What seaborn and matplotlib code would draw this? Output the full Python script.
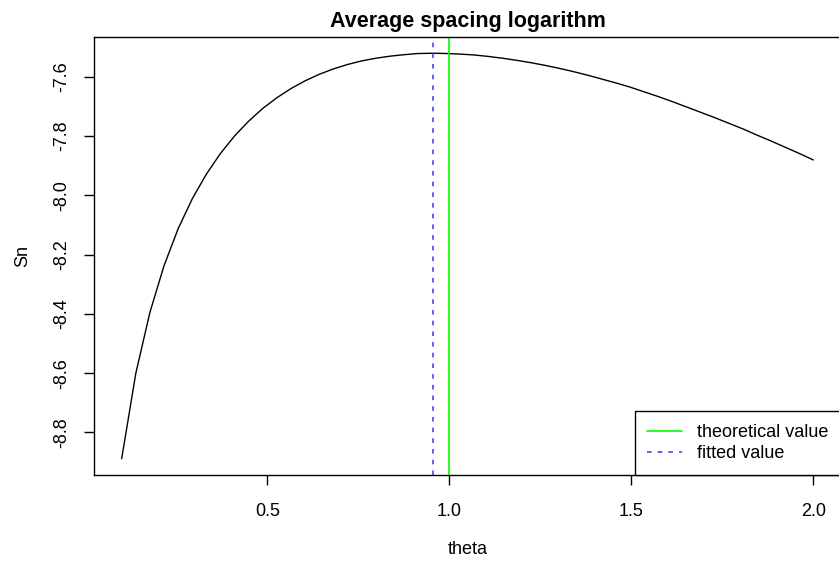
import matplotlib
matplotlib.use("Agg")
import matplotlib.pyplot as plt
import seaborn as sns
import pandas as pd
from matplotlib.lines import Line2D

# ---- data ----
theta = [0.1000, 0.1388, 0.1776, 0.2163, 0.2551, 0.2939, 0.3327, 0.3714, 0.4102, 0.4490,
         0.4878, 0.5265, 0.5653, 0.6041, 0.6429, 0.6816, 0.7204, 0.7592, 0.7980, 0.8367,
         0.8755, 0.9143, 0.9531, 0.9918, 1.0306, 1.0694, 1.1082, 1.1469, 1.1857, 1.2245,
         1.2633, 1.3020, 1.3408, 1.3796, 1.4184, 1.4571, 1.4959, 1.5347, 1.5735, 1.6122,
         1.6510, 1.6898, 1.7286, 1.7673, 1.8061, 1.8449, 1.8837, 1.9224, 1.9612, 2.0000]
sn = [-8.889, -8.601, -8.395, -8.238, -8.113, -8.012, -7.929, -7.859, -7.800, -7.750,
      -7.707, -7.671, -7.640, -7.614, -7.592, -7.574, -7.559, -7.547, -7.538, -7.531,
      -7.526, -7.522, -7.521, -7.522, -7.524, -7.527, -7.532, -7.538, -7.545, -7.553,
      -7.562, -7.572, -7.583, -7.595, -7.608, -7.621, -7.635, -7.651, -7.667, -7.684,
      -7.702, -7.720, -7.738, -7.757, -7.776, -7.797, -7.817, -7.838, -7.859, -7.881]
theoretical_value = 1.0
fitted_value = 0.956
x_ticks = [0.5, 1.0, 1.5, 2.0]
y_ticks = [-8.8, -8.6, -8.4, -8.2, -8.0, -7.8, -7.6]
legend_labels = ["theoretical value", "fitted value"]

sns.set_theme(style="white")
plt.rcParams['font.family'] = ['Liberation Sans', 'DejaVu Sans']
plt.rcParams['text.color'] = 'black'
plt.rcParams['axes.labelcolor'] = 'black'

df = pd.DataFrame({"theta": theta, "Sn": sn})

fig = plt.figure(figsize=(8.39, 5.62), dpi=100)
ax = fig.add_axes([94/839, 1 - 475/562, (841 - 94)/839, (475 - 37)/562])

sns.lineplot(data=df, x="theta", y="Sn", ax=ax, color="black", linewidth=1.0)
ax.axvline(theoretical_value, color="#00ff00", linewidth=1.2)
ax.axvline(fitted_value, color="#3333ff", linewidth=1.1, linestyle=(0, (3, 4)))

rng_x = max(theta) - min(theta)
rng_y = max(sn) - min(sn)
ax.set_xlim(min(theta) - 0.04 * rng_x, max(theta) + 0.04 * rng_x)
ax.set_ylim(min(sn) - 0.04 * rng_y, max(sn) + 0.04 * rng_y)

ax.set_xticks(x_ticks)
ax.set_xticklabels([f"{v:.1f}" for v in x_ticks])
ax.set_yticks(y_ticks)
ax.set_yticklabels([f"{v:.1f}" for v in y_ticks], rotation=90, va="center")
ax.tick_params(axis="both", direction="out", length=7, width=1, colors="black",
               labelsize=13, bottom=True, left=True)
ax.tick_params(axis="x", pad=13)
ax.tick_params(axis="y", pad=10)

for s in ax.spines.values():
    s.set_visible(True)
    s.set_color("black")
    s.set_linewidth(1.0)

ax.set_xlabel("theta", fontsize=13, labelpad=15)
ax.set_ylabel("Sn", fontsize=13, labelpad=16)
ax.set_title("Average spacing logarithm", fontsize=15.5, fontweight="bold", pad=7)

handles = [Line2D([], [], color="#00ff00", linewidth=1.2),
           Line2D([], [], color="#3333ff", linewidth=1.1, linestyle=(0, (3, 4)))]
leg = ax.legend(handles, legend_labels, loc="lower right", bbox_to_anchor=(1.0, 0.0),
                borderaxespad=0, fontsize=13, handlelength=1.9, handletextpad=0.85,
                borderpad=0.7, labelspacing=0.25, fancybox=False, framealpha=1,
                edgecolor="black")
leg.get_frame().set_linewidth(1.0)

fig.savefig("out.png", dpi=100)
